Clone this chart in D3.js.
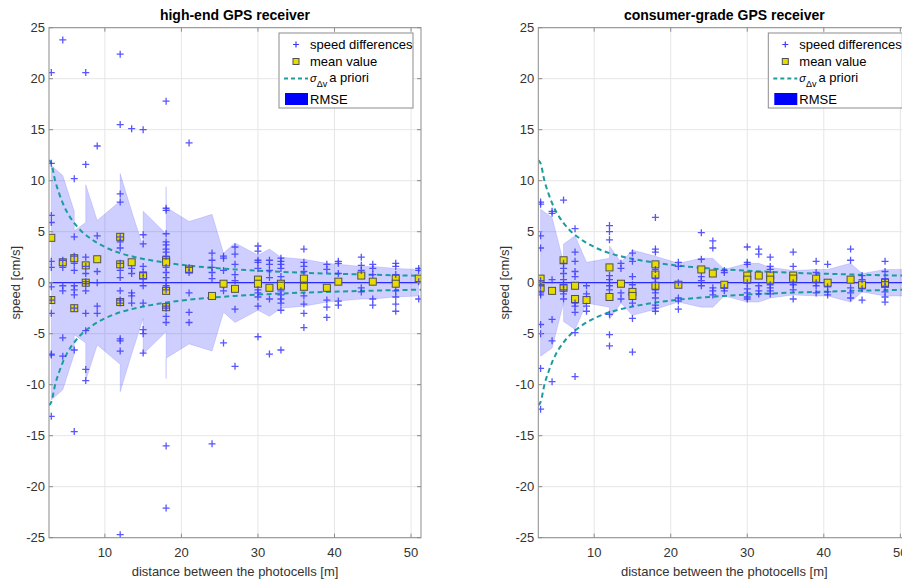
<!DOCTYPE html>
<html><head><meta charset="utf-8">
<script src="https://cdn.jsdelivr.net/npm/d3@7/dist/d3.min.js"></script>
<style>
html,body{margin:0;padding:0;background:#fff;overflow:hidden}
svg{display:block;font-family:"Liberation Sans",Arial,Helvetica,sans-serif}
</style></head>
<body>
<svg id="chart" width="902" height="581"></svg>
<script>
// ---------- data ----------
const distances = [3,4.5,6,7.5,9,12,13.5,15,18,21,24,25.5,27,30,31.5,33,36,39,40.5,43.5,45,48,51];

const highEndDiffs = [
 [20.6,11.7,6.6,5.9,2.1,1.5,-0.4,-1.7,-3.0,-7.0,-7.1,-13.1],
 [23.8,2.2,1.5,-0.3,-0.8,-5.4,-7.2],
 [10.2,4.5,2.6,1.9,1.2,-0.3,-0.7,-1.2,-2.5,-6.6,-14.6],
 [20.6,11.6,2.5,1.6,0.9,0.1,-0.1,-0.8,-3.0,-4.7,-8.5,-9.6],
 [13.4,4.6,1.1,0.0,-2.3,-3.0],
 [22.4,15.5,8.7,7.9,4.5,4.0,3.4,1.9,1.2,0.5,-0.8,-1.7,-2.0,-5.5,-5.7,-6.7,-24.7],
 [15.1,1.4,0.9,-1.0,-1.3,-2.0],
 [15.0,4.7,3.8,1.6,1.0,0.4,-0.3,-2.0,-4.6,-5.0,-6.9],
 [17.8,7.3,7.1,4.8,4.0,3.7,3.3,3.0,2.6,1.5,1.0,0.5,0.0,-0.3,-0.7,-2.3,-2.5,-3.3,-3.9,-16.0,-22.1],
 [13.7,1.5,1.0,-1.0,-2.9,-3.9],
 [2.9,2.2,1.5,1.0,0.4,-15.8],
 [2.6,2.4,1.2,-0.8,-5.9],
 [3.5,2.8,1.8,0.8,0.2,-2.6,-8.2],
 [3.6,3.1,2.2,2.0,1.4,-0.7,-1.0,-1.4,-2.3,-5.3],
 [2.2,1.8,1.2,0.5,-1.6,-7.0],
 [2.4,2.1,1.8,1.4,0.6,-0.8,-1.2,-1.6,-2.0,-2.7,-6.6],
 [3.3,2.0,1.6,1.1,-1.3,-2.1,-3.0,-4.4],
 [1.8,1.3,-1.7,-2.4,-3.4],
 [2.1,1.9,0.9,-1.8,-2.2],
 [2.5,1.7,1.2,-0.5,-0.9],
 [1.8,1.4,0.8,-1.6,-2.2],
 [1.9,1.6,0.8,-0.8,-1.4,-2.1,-2.8],
 [1.4,1.2,0.1,-1.6]
];
const highEndMeans = [[4.4,-1.7],[2.0],[2.4,-2.5],[1.7,0.0],[2.3],[4.5,1.8,-1.9],[2.0],[0.7],[2.2,2.0,-0.8,-2.4],[1.3],[-1.3],[-0.1],[-0.6],[0.3,-0.1],[-0.5],[-0.1,-0.3],[0.4,-0.4],[-0.5],[0.1],[0.7],[0.1],[0.4,-0.1],[0.4]];
const highEndRmseDist = [3,4.5,6,6,7.5,7.5,9,12,12,13.5,15,15,18,18,18,21,24,25.5,27,30,31.5,33,36,39,40.5,43.5,45,48,51];
const highEndRmse     = [11.5,10.5,7.0,5.1,5.9,9.6,6.1,8.0,10.7,7.0,3.5,7.0,4.8,9.4,7.4,6.0,6.7,2.9,3.9,2.7,3.3,2.5,2.3,1.9,1.8,1.6,1.6,1.4,1.3];

const consumerDiffs = [
 [7.9,7.7,4.6,3.4,0.2,-0.3,-1.0,-1.2,-4.1,-5.0,-8.4,-12.4],
 [7.0,6.8,0.3,-3.6,-5.7,-9.7],
 [8.1,1.9,1.4,0.9,0.3,-0.2,-0.7,-1.1,-1.6],
 [5.3,3.0,2.1,1.1,0.6,-2.0,-2.3,-2.9,-4.9,-9.2],
 [-0.3,-1.1,-2.3,-2.8],
 [5.6,5.0,4.2,0.7,0.3,0.0,-0.3,-0.7,-3.1,-5.1,-6.2],
 [1.9,1.4,-1.0,-1.6],
 [2.9,2.1,0.6,-0.2,-2.0,-3.5,-6.8],
 [6.4,3.3,3.0,1.3,0.4,0.0,-0.7,-1.0,-1.5,-2.2,-2.5,-2.8],
 [2.0,1.6,0.0,-1.5,-1.8,-2.6],
 [4.9,2.3,0.6,0.2,-0.3],
 [4.1,3.4,-0.5,-0.8,-1.2],
 [1.2,1.0,-0.5,-0.8],
 [3.5,2.0,1.8,0.0,-0.6,-1.0,-1.4,-1.6],
 [3.3,2.8,-0.3,-0.8,-1.1],
 [2.5,1.6,1.3,-0.2,-0.5,-0.8,-1.1],
 [3.0,1.6,0.0,-0.2,-0.7,-1.6],
 [2.1,1.0,0.0,-0.3,-1.0],
 [1.8,-0.4,-0.9,-1.2],
 [3.3,2.2,-0.5,-1.0,-1.5],
 [0.7,0.3,-0.6,-1.7],
 [2.1,1.1,0.4,0.1,-0.4,-0.9,-1.4,-1.9],
 []
];
const consumerMeans = [[0.4,-0.5],[-0.8],[2.2,-0.5],[-0.3,-1.6],[-1.7],[1.5,-1.4],[-0.1],[-0.9,-1.3],[1.8,0.8,-0.3],[-0.2],[1.3],[0.9],[-0.2],[0.7,0.3],[0.7],[0.7,0.3],[0.7,0.4],[0.4],[0.0],[0.3],[-0.2],[-0.1,0.0],[]];
const consumerRmseDist = [3,4.5,6,6,7.5,9,12,12,13.5,15,18,21,24,25.5,27,30,31.5,33,36,39,40.5,43.5,45,48,51];
const consumerRmse     = [7.2,6.4,2.0,3.8,4.6,2.0,2.4,3.6,2.0,3.2,2.6,1.9,2.4,2.4,1.3,1.9,1.9,1.5,1.2,1.3,1.3,1.9,0.9,1.3,1.3];

// a-priori sigma curve
const sigmaDist = [2.7,3,3.5,4,4.5,5,6,7,8,9,10,12,14,16,18,21,24,27,30,33,36,40,45,51.3];
const sigmaVal  = [12.0,11.7,10.0,8.8,7.8,7.0,5.85,5.0,4.4,3.9,3.5,2.9,2.5,2.2,1.95,1.67,1.46,1.3,1.17,1.06,0.97,0.88,0.78,0.68];

const xTicks = [10,20,30,40,50];
const yTicks = [-25,-20,-15,-10,-5,0,5,10,15,20,25];
const titles = ["high-end GPS receiver","consumer-grade GPS receiver"];
const xLabel = "distance between the photocells [m]";
const yLabel = "speed [cm/s]";
const legendLabels = ["speed differences","mean value","a priori","RMSE"];

// ---------- drawing ----------
const svg = d3.select("#chart");
const yTop = 27.7, yBot = 537.7;
const panels = [
  {x0:49, x1:421, diffs:highEndDiffs, means:highEndMeans, rd:highEndRmseDist, rv:highEndRmse, title:titles[0]},
  {x0:538.3, x1:910.3, diffs:consumerDiffs, means:consumerMeans, rd:consumerRmseDist, rv:consumerRmse, title:titles[1]}
];
const tickCol = "#333333";

panels.forEach((p,pi)=>{
  const x = d3.scaleLinear().domain([2.7,51.3]).range([p.x0,p.x1]);
  const y = d3.scaleLinear().domain([-25,25]).range([yBot,yTop]);
  const g = svg.append("g");
  const cid = "clip"+pi;
  svg.append("clipPath").attr("id",cid).append("rect")
    .attr("x",p.x0).attr("y",yTop).attr("width",p.x1-p.x0).attr("height",yBot-yTop);

  // grid
  const grid = g.append("g");
  grid.selectAll("line.gx").data(xTicks).join("line")
    .attr("x1",d=>x(d)).attr("x2",d=>x(d)).attr("y1",yTop).attr("y2",yBot)
    .attr("stroke","#e6e6e6").attr("stroke-width",1);
  grid.selectAll("line.gy").data(yTicks).join("line")
    .attr("x1",p.x0).attr("x2",p.x1).attr("y1",d=>y(d)).attr("y2",d=>y(d))
    .attr("stroke","#e6e6e6").attr("stroke-width",1);

  const plot = g.append("g").attr("clip-path",`url(#${cid})`);

  // RMSE band
  const band = p.rd.map((d,i)=>({d:d, r:p.rv[i]}));
  plot.append("path").datum(band)
    .attr("d", d3.area().x(d=>x(d.d)).y0(d=>y(-d.r)).y1(d=>y(d.r)))
    .attr("fill","#0000ff").attr("fill-opacity",0.19)
    .attr("stroke","#0000ff").attr("stroke-opacity",0.12).attr("stroke-width",1);

  // zero line
  plot.append("line").attr("x1",p.x0).attr("x2",p.x1).attr("y1",y(0)).attr("y2",y(0))
    .attr("stroke","#2a2aff").attr("stroke-width",1.2);

  // sigma curves
  const sig = sigmaDist.map((d,i)=>({d:d, s:sigmaVal[i]}));
  [1,-1].forEach(sgn=>{
    plot.append("path").datum(sig)
      .attr("d", d3.line().curve(d3.curveMonotoneX).x(d=>x(d.d)).y(d=>y(sgn*d.s)))
      .attr("fill","none").attr("stroke","#1c9c9c").attr("stroke-width",2)
      .attr("stroke-dasharray","5,3.5");
  });

  // means
  const meanPts = [];
  p.means.forEach((arr,i)=>arr.forEach(v=>meanPts.push({d:distances[i], v:v})));
  plot.selectAll("rect.mean").data(meanPts).join("rect")
    .attr("x",d=>x(d.d)-3.5).attr("y",d=>y(d.v)-3.5).attr("width",7).attr("height",7)
    .attr("fill","#e6dc00").attr("stroke","#505050").attr("stroke-width",1);

  // speed differences
  const pts = [];
  p.diffs.forEach((arr,i)=>arr.forEach(v=>pts.push({d:distances[i], v:v})));
  plot.selectAll("path.pt").data(pts).join("path")
    .attr("transform",d=>`translate(${x(d.d)},${y(d.v)})`)
    .attr("d","M-3.5,0H3.5M0,-3.5V3.5")
    .attr("stroke","#3a3aff").attr("stroke-opacity",0.85).attr("stroke-width",1.3).attr("fill","none");

  // axes box
  const ax = g.append("g");
  ax.append("rect").attr("x",p.x0).attr("y",yTop).attr("width",p.x1-p.x0).attr("height",yBot-yTop)
    .attr("fill","none").attr("stroke","#8c8c8c").attr("stroke-width",1);
  xTicks.forEach(t=>{
    ax.append("line").attr("x1",x(t)).attr("x2",x(t)).attr("y1",yBot).attr("y2",yBot-4).attr("stroke","#8c8c8c");
    ax.append("line").attr("x1",x(t)).attr("x2",x(t)).attr("y1",yTop).attr("y2",yTop+4).attr("stroke","#8c8c8c");
  });
  yTicks.forEach(t=>{
    ax.append("line").attr("x1",p.x0).attr("x2",p.x0+4).attr("y1",y(t)).attr("y2",y(t)).attr("stroke","#8c8c8c");
    ax.append("line").attr("x1",p.x1).attr("x2",p.x1-4).attr("y1",y(t)).attr("y2",y(t)).attr("stroke","#8c8c8c");
  });
  ax.selectAll("text.xt").data(xTicks).join("text")
    .attr("x",d=>x(d)).attr("y",yBot+19).attr("text-anchor","middle")
    .attr("font-size",13).attr("fill",tickCol).text(d=>d);
  ax.selectAll("text.yt").data(yTicks).join("text")
    .attr("x",p.x0-4).attr("y",d=>y(d)+4.5).attr("text-anchor","end")
    .attr("font-size",13).attr("fill",tickCol).text(d=>d);
  g.append("text").attr("x",(p.x0+p.x1)/2).attr("y",575.5).attr("text-anchor","middle")
    .attr("font-size",13).attr("fill",tickCol).text(xLabel);
  g.append("text").attr("transform",`translate(${p.x0-29},${(yTop+yBot)/2}) rotate(-90)`)
    .attr("text-anchor","middle").attr("font-size",13).attr("fill",tickCol).text(yLabel);
  g.append("text").attr("x",(p.x0+p.x1)/2).attr("y",20).attr("text-anchor","middle")
    .attr("font-size",14).attr("font-weight","bold").attr("fill","#000").text(p.title);

  // legend
  const lx = p.x0+230, ly = 33;
  const lg = g.append("g");
  lg.append("rect").attr("x",lx).attr("y",ly).attr("width",134).attr("height",75)
    .attr("fill","#fff").attr("stroke","#8c8c8c").attr("stroke-width",1);
  lg.append("path").attr("transform",`translate(${lx+17},${ly+11.5})`).attr("d","M-3,0H3M0,-3V3")
    .attr("stroke","#3a3aff").attr("stroke-width",1.2);
  lg.append("rect").attr("x",lx+17-3).attr("y",ly+28.5-3).attr("width",6).attr("height",6)
    .attr("fill","#e6dc00").attr("stroke","#505050");
  lg.append("line").attr("x1",lx+5).attr("x2",lx+29).attr("y1",ly+45.5).attr("y2",ly+45.5)
    .attr("stroke","#1c9c9c").attr("stroke-width",2).attr("stroke-dasharray","4,3");
  lg.append("rect").attr("x",lx+6).attr("y",ly+60).attr("width",23).attr("height",12).attr("fill","#0000ff");
  const tx = lx+31;
  lg.append("text").attr("x",tx).attr("y",ly+16).attr("font-size",13).attr("fill","#000").text(legendLabels[0]);
  lg.append("text").attr("x",tx).attr("y",ly+33).attr("font-size",13).attr("fill","#000").text(legendLabels[1]);
  const st = lg.append("text").attr("x",tx).attr("y",ly+49).attr("font-size",13).attr("fill","#000");
  st.append("tspan").attr("font-size",11).attr("font-style","italic").text("σ");
  st.append("tspan").attr("font-size",9).attr("dy",5).text("Δv");
  st.append("tspan").attr("dy",-5).attr("dx",2).text(legendLabels[2]);
  lg.append("text").attr("x",tx).attr("y",ly+71).attr("font-size",13).attr("fill","#000").text(legendLabels[3]);
});
</script>
</body></html>
